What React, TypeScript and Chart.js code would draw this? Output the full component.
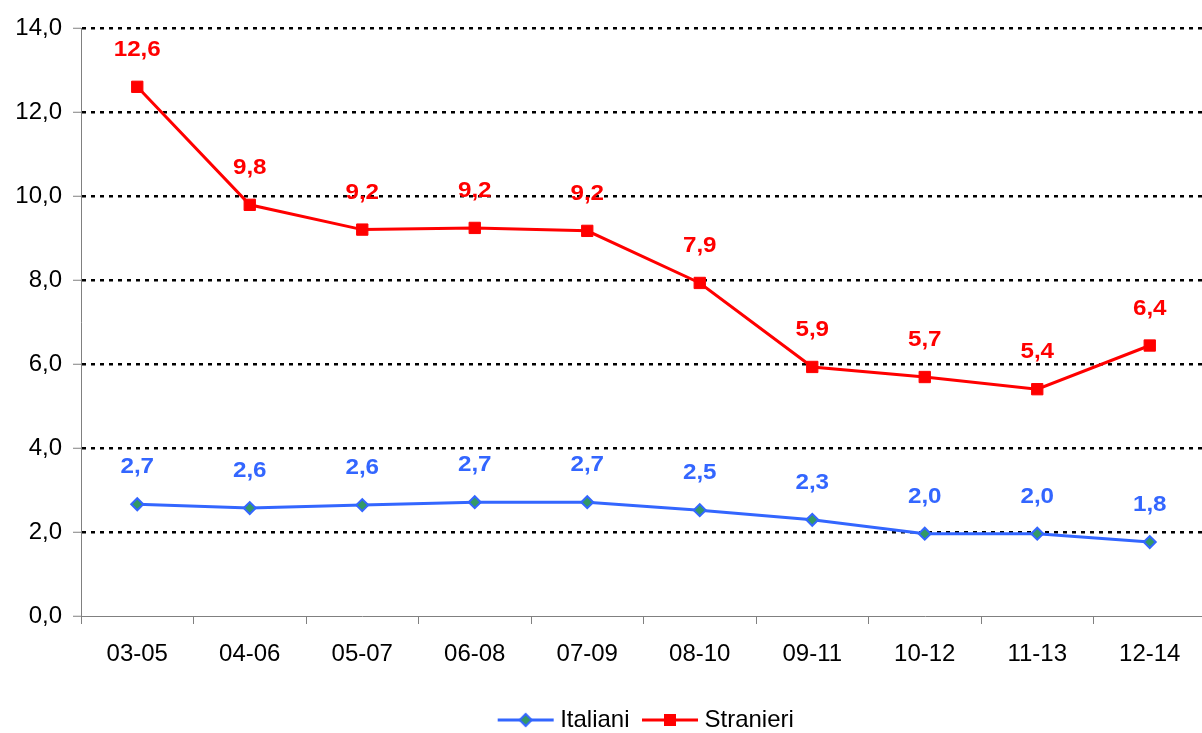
import React, { useEffect, useRef } from "react";
import { Chart, registerables } from "chart.js";

Chart.register(...registerables);

const categories = ["03-05", "04-06", "05-07", "06-08", "07-09", "08-10", "09-11", "10-12", "11-13", "12-14"];
const italiani = [2.66, 2.57, 2.64, 2.71, 2.71, 2.52, 2.29, 1.96, 1.96, 1.76];
const stranieri = [12.6, 9.79, 9.2, 9.24, 9.17, 7.93, 5.93, 5.69, 5.4, 6.44];
const yTicks = [0, 2, 4, 6, 8, 10, 12, 14];

const BLUE = "#3366FF";
const GREEN = "#339966";
const RED = "#FF0000";
const FONT = "'Liberation Sans', Arial, sans-serif";

function makeLegendIcon(kind: "diamond" | "square"): HTMLCanvasElement {
  const c = document.createElement("canvas");
  c.width = 58;
  c.height = 16;
  const ctx = c.getContext("2d")!;
  ctx.strokeStyle = kind === "diamond" ? BLUE : RED;
  ctx.lineWidth = 3;
  ctx.beginPath();
  ctx.moveTo(1, 8);
  ctx.lineTo(57, 8);
  ctx.stroke();
  if (kind === "diamond") {
    ctx.beginPath();
    ctx.moveTo(29, 2);
    ctx.lineTo(35, 8);
    ctx.lineTo(29, 14);
    ctx.lineTo(23, 8);
    ctx.closePath();
    ctx.fillStyle = GREEN;
    ctx.fill();
    ctx.lineWidth = 2;
    ctx.strokeStyle = BLUE;
    ctx.stroke();
  } else {
    ctx.fillStyle = RED;
    ctx.fillRect(23, 2, 12, 12);
  }
  return c;
}

const dataLabelPlugin = {
  id: "dataLabels",
  afterDatasetsDraw(chart: any) {
    const ctx = chart.ctx;
    chart.data.datasets.forEach((ds: any, di: number) => {
      const meta = chart.getDatasetMeta(di);
      meta.data.forEach((pt: any, i: number) => {
        const v = ds.data[i] as number;
        const txt = v.toFixed(1).replace(".", ",");
        ctx.save();
        ctx.translate(pt.x, pt.y - 37);
        ctx.scale(1.1, 1);
        ctx.font = `bold 22px ${FONT}`;
        ctx.textAlign = "center";
        ctx.textBaseline = "middle";
        ctx.fillStyle = ds.labelColor;
        ctx.fillText(txt, 0, 0);
        ctx.restore();
      });
    });
  },
};

const legendShiftPlugin = {
  id: "legendShift",
  afterLayout(chart: any) {
    if (chart.legend) {
      chart.legend.left += 42;
      chart.legend.right += 42;
    }
  },
};

export default function App() {
  const ref = useRef<HTMLCanvasElement>(null);
  useEffect(() => {
    if (!ref.current) return;
    const iconA = makeLegendIcon("diamond");
    const iconB = makeLegendIcon("square");
    const chart = new Chart(ref.current, {
      type: "line",
      data: {
        labels: categories,
        datasets: [
          {
            label: "Italiani",
            data: italiani,
            borderColor: BLUE,
            borderWidth: 3,
            backgroundColor: GREEN,
            pointStyle: "rectRot",
            pointRadius: 6,
            pointBorderWidth: 2,
            pointBorderColor: BLUE,
            pointBackgroundColor: GREEN,
            tension: 0,
            labelColor: BLUE,
          } as any,
          {
            label: "Stranieri",
            data: stranieri,
            borderColor: RED,
            borderWidth: 3,
            backgroundColor: RED,
            pointStyle: "rect",
            pointRadius: 8,
            pointBorderWidth: 1,
            pointBorderColor: RED,
            pointBackgroundColor: RED,
            tension: 0,
            labelColor: RED,
          } as any,
        ],
      },
      options: {
        responsive: false,
        animation: false,
        layout: { padding: { top: 28, left: 0, right: 2, bottom: 3 } },
        plugins: {
          tooltip: { enabled: false },
          legend: {
            position: "bottom",
            labels: {
              usePointStyle: true,
              pointStyleWidth: 45,
              boxHeight: 16,
              padding: 18,
              color: "#000",
              font: { family: FONT, size: 24 },
              generateLabels: () => [
                { text: "Italiani", pointStyle: iconA, fillStyle: GREEN, strokeStyle: BLUE, lineWidth: 0, datasetIndex: 0, hidden: false } as any,
                { text: "Stranieri", pointStyle: iconB, fillStyle: RED, strokeStyle: RED, lineWidth: 0, datasetIndex: 1, hidden: false } as any,
              ],
            },
          },
        },
        scales: {
          x: {
            offset: true,
            grid: {
              offset: true,
              drawOnChartArea: false,
              drawTicks: true,
              tickLength: 8,
              tickColor: "#808080",
              tickWidth: 1,
            },
            border: { display: true, color: "#808080", width: 1 },
            ticks: {
              color: "#000",
              font: { family: FONT, size: 24 },
              padding: 16,
              maxRotation: 0,
              autoSkip: false,
            },
            afterFit: (scale: any) => {
              scale.height = 74;
            },
          },
          y: {
            min: 0,
            max: 14,
            afterBuildTicks: (scale: any) => {
              scale.ticks = yTicks.map((v) => ({ value: v }));
            },
            grid: {
              color: (c: any) => (c.tick && c.tick.value === 0 ? "rgba(0,0,0,0)" : "#000"),
              lineWidth: 2.5,
              drawTicks: true,
              tickLength: 8,
              tickColor: "#808080",
              tickWidth: 1,
              tickBorderDash: [],
            },
            border: { display: true, color: "#808080", width: 1, dash: [4, 5] },
            ticks: {
              color: "#000",
              font: { family: FONT, size: 24 },
              padding: 11,
              callback: (v: any) => Number(v).toFixed(1).replace(".", ","),
            },
            afterFit: (scale: any) => {
              scale.width = 81;
            },
          },
        },
      },
      plugins: [dataLabelPlugin, legendShiftPlugin],
    });
    return () => chart.destroy();
  }, []);
  return (
    <div style={{ position: "absolute", left: 0, top: 0, width: 1202, height: 733, overflow: "hidden", background: "#fff" }}>
      <canvas ref={ref} width={1215} height={745} style={{ display: "block" }} />
    </div>
  );
}
